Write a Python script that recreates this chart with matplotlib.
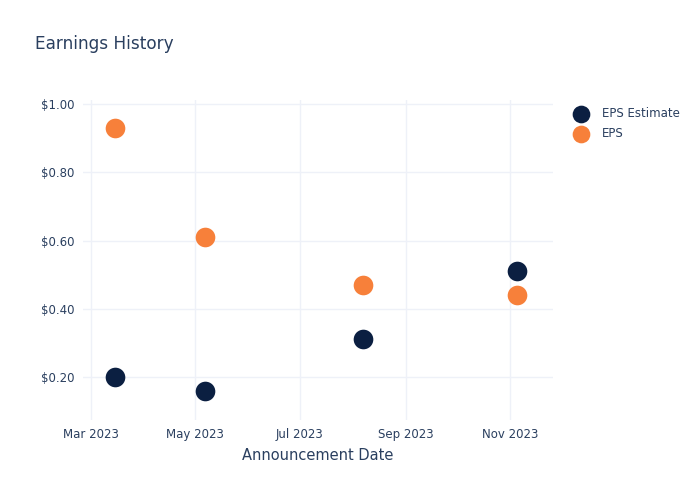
import matplotlib.pyplot as plt
import matplotlib.dates as mdates
import numpy as np
from datetime import datetime

# Datos
fechas = [datetime(2023, 3, 15), datetime(2023, 5, 7), datetime(2023, 8, 7), datetime(2023, 11, 5)]
eps_estimate = [0.20, 0.16, 0.31, 0.51]
eps_actual = [0.93, 0.61, 0.47, 0.44]

text_color = '#2a3f5f'
grid_color = '#eef1f8'
navy = '#0b1f41'
orange = '#f7803a'

fig = plt.figure(figsize=(7, 5), dpi=100)
ax = fig.add_axes([0.1186, 0.16, 0.6714, 0.64])

ax.scatter(fechas, eps_estimate, s=200, color=navy, label='EPS Estimate', zorder=3, linewidths=0)
ax.scatter(fechas, eps_actual, s=200, color=orange, label='EPS', zorder=3, linewidths=0)

ax.set_xlim(datetime(2023, 2, 24, 14), datetime(2023, 11, 26))
ax.set_ylim(0.074, 1.012)

ax.xaxis.set_major_locator(mdates.MonthLocator(bymonth=[3, 5, 7, 9, 11]))
ax.xaxis.set_major_formatter(mdates.DateFormatter('%b %Y'))
ax.set_yticks([0.2, 0.4, 0.6, 0.8, 1.0])
ax.set_yticklabels([f'${v:.2f}' for v in [0.2, 0.4, 0.6, 0.8, 1.0]])

ax.grid(True, color=grid_color, linewidth=1)
ax.set_axisbelow(True)
for s in ax.spines.values():
    s.set_visible(False)
ax.tick_params(length=0, labelsize=8.5, labelcolor=text_color, pad=6)

ax.set_xlabel('Announcement Date', fontsize=10.5, color=text_color, labelpad=5)
fig.text(0.05, 0.912, 'Earnings History', fontsize=12.2, color=text_color, va='center')

leg = ax.legend(loc='upper left', bbox_to_anchor=(1.012, 1.01), frameon=False,
                fontsize=8.5, labelcolor=text_color, handletextpad=0.8,
                labelspacing=0.55, markerscale=0.9)

fig.savefig('out.png', dpi=100)
